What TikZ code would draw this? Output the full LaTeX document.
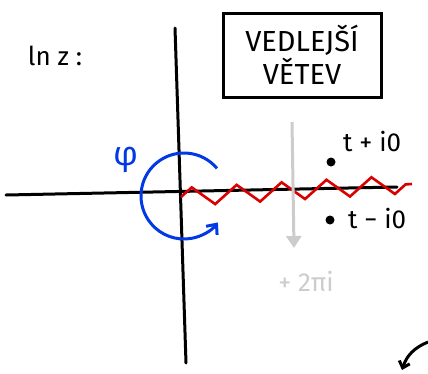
\documentclass[tikz,border=0pt]{standalone}
\usepackage{fontspec}
\setmainfont{Fira Sans}
\usetikzlibrary{arrows.meta,positioning,calc,decorations.pathmorphing}
\tikzset{
  axis/.style={draw,line width=3pt,line cap=round},
  cut/.style={draw=red!85!black,line width=2.6pt,decorate,decoration={zigzag,segment length=45pt,amplitude=9pt}},
  turn/.style={draw=blue!75!cyan!90!black,line width=3pt,-{Straight Barb[length=8pt,width=14pt]}},
  jumparr/.style={draw=gray!40,line width=3pt,-{Triangle[length=12pt,width=15pt]}},
  pnt/.style={circle,fill=black,inner sep=0pt,minimum size=9pt},
  lbl/.style={font=\fontsize{26}{28}\selectfont,inner sep=1pt},
  titleblk/.style={draw,line width=3pt,minimum width=158pt,minimum height=84pt,align=center,font=\fontsize{29}{33}\selectfont}
}
\begin{document}
\begin{tikzpicture}[x=1pt,y=-1pt]
  \useasboundingbox (0,0) rectangle (428,373);
  % Axes
  \coordinate (xl) at (6,195);
  \coordinate (xr) at (397,187);
  \coordinate (yt) at (175,28);
  \coordinate (yb) at (186,363);
  \draw[axis] (xl) -- (xr);
  \draw[axis] (yt) -- (yb);
  \node[lbl] (lnz) at (55,56) {ln z :};

  % Branch cut
  \coordinate (c0) at (181,197);
  \coordinate (c1) at (412,184);
  \draw[cut] (c0) -- (c1);

  % Angle around the origin
  \coordinate (o) at (184,196);
  \draw[turn] ($(o)+(-40:43)$) arc[start angle=-40,end angle=-322,radius=43];
  \node[lbl,text=blue!75!cyan!90!black,font=\fontsize{34}{36}\selectfont] (phi) at (126,160) {φ};

  % Label box
  \node[titleblk] (box) at (302,55) {VEDLEJŠÍ\\VĚTEV};

  % Jump across the cut
  \coordinate (s0) at (292,122);
  \coordinate (s1) at (294,248);
  \draw[jumparr] (s0) -- (s1);
  \node[lbl,text=gray!40] (jump) at (306,282) {+ 2πi};

  % Points above and below
  \node[pnt] (up) at (331,162) {};
  \node[pnt] (dn) at (330,220) {};
  \node[lbl,anchor=west] (uplbl) at (342,142) {t + i0};
  \node[lbl,anchor=west] (dnlbl) at (347,219) {t − i0};

  % Corner arrow
  \coordinate (k0) at (428,342);
  \coordinate (k1) at (402,370);
  \draw[line width=3pt,-{Straight Barb[length=6pt,width=11pt]}] (k0) to[bend right=25] (k1);
\end{tikzpicture}
\end{document}
